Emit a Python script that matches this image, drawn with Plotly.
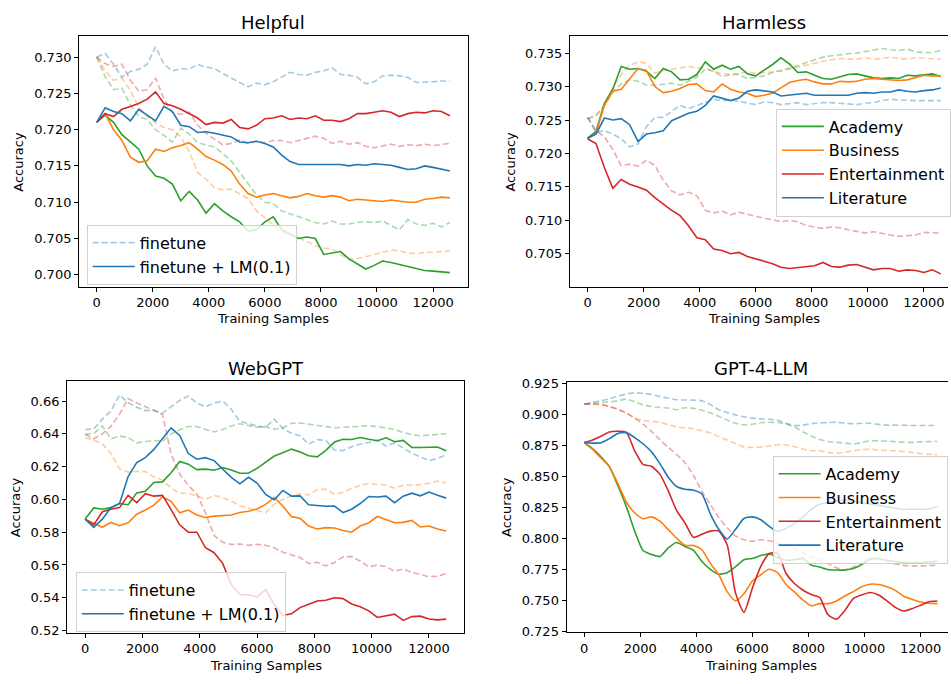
import plotly.graph_objects as go

# Training-sample checkpoints shared by every curve
STEPS = list(range(0, 12601, 300))

CATEGORIES = ["Academy", "Business", "Entertainment", "Literature"]

# ---------------- Helpful ----------------
HELP_ACAD_FT = [.7300, .7273, .7255, .7257, .7234, .7218, .7214, .7200, .7192, .7183, .7202, .7194, .7182, .7179, .7176,
                .7167, .7157, .7141, .7126, .7110, .7100, .7098, .7088, .7084, .7080, .7076, .7072, .7070, .7074, .7070,
                .7070, .7072, .7073, .7072, .7074, .7068, .7062, .7076, .7070, .7068, .7071, .7066, .7072]
HELP_BUS_FT = [.7300, .7281, .7268, .7271, .7254, .7231, .7218, .7209, .7203, .7200, .7190, .7170, .7141, .7132, .7120,
               .7117, .7118, .7112, .7105, .7088, .7078, .7068, .7059, .7054, .7051, .7046, .7040, .7037, .7035, .7028,
               .7021, .7022, .7025, .7029, .7032, .7034, .7033, .7030, .7029, .7031, .7031, .7032, .7033]
HELP_ENT_FT = [.7300, .7291, .7287, .7290, .7268, .7253, .7255, .7271, .7242, .7224, .7221, .7224, .7206, .7195, .7187,
               .7179, .7181, .7186, .7181, .7184, .7182, .7185, .7185, .7182, .7185, .7188, .7191, .7188, .7181, .7184,
               .7180, .7182, .7177, .7175, .7178, .7180, .7177, .7179, .7178, .7180, .7178, .7179, .7181]
HELP_LIT_FT = [.7300, .7305, .7290, .7272, .7280, .7283, .7290, .7314, .7290, .7281, .7284, .7283, .7290, .7286, .7284,
               .7277, .7271, .7265, .7259, .7264, .7262, .7266, .7272, .7279, .7276, .7275, .7279, .7281, .7285, .7276,
               .7275, .7272, .7263, .7266, .7274, .7275, .7274, .7272, .7265, .7265, .7266, .7267, .7267]
HELP_ACAD_LM = [.7210, .7220, .7210, .7193, .7183, .7173, .7150, .7136, .7133, .7125, .7102, .7115, .7103, .7085, .7098,
                .7088, .7080, .7073, .7060, .7062, .7073, .7080, .7062, .7056, .7050, .7052, .7050, .7028, .7030, .7032,
                .7022, .7015, .7008, .7013, .7019, .7017, .7014, .7012, .7009, .7006, .7005, .7004, .7003]
HELP_BUS_LM = [.7210, .7222, .7200, .7185, .7162, .7155, .7157, .7173, .7170, .7175, .7178, .7182, .7173, .7163, .7158,
               .7152, .7143, .7125, .7112, .7107, .7110, .7112, .7109, .7106, .7108, .7112, .7109, .7107, .7109, .7107,
               .7102, .7104, .7103, .7102, .7101, .7103, .7101, .7100, .7100, .7104, .7105, .7107, .7106]
HELP_ENT_LM = [.7210, .7222, .7218, .7228, .7232, .7236, .7242, .7252, .7236, .7233, .7228, .7222, .7216, .7207, .7210,
               .7209, .7214, .7203, .7201, .7206, .7215, .7216, .7219, .7214, .7216, .7215, .7219, .7213, .7213, .7211,
               .7215, .7222, .7222, .7224, .7226, .7224, .7218, .7222, .7224, .7223, .7226, .7225, .7219]
HELP_LIT_LM = [.7210, .7230, .7225, .7222, .7212, .7228, .7220, .7212, .7232, .7225, .7206, .7204, .7196, .7197, .7195,
               .7193, .7190, .7183, .7182, .7184, .7181, .7176, .7165, .7156, .7152, .7152, .7152, .7152, .7152, .7152,
               .7150, .7152, .7151, .7153, .7152, .7151, .7148, .7145, .7146, .7150, .7148, .7146, .7143]

# ---------------- Harmless ----------------
HARM_ACAD_FT = [.7252, .7256, .7272, .7292, .7304, .7310, .7308, .7302, .7302, .7304, .7305, .7302, .7308, .7314, .7326,
                .7323, .7315, .7318, .7318, .7312, .7314, .7316, .7321, .7324, .7328, .7331, .7336, .7340, .7344, .7346,
                .7348, .7349, .7350, .7352, .7354, .7357, .7355, .7354, .7356, .7352, .7351, .7351, .7354]
HARM_BUS_FT = [.7252, .7257, .7272, .7298, .7318, .7332, .7337, .7335, .7320, .7324, .7326, .7328, .7330, .7328, .7328,
               .7322, .7320, .7318, .7319, .7322, .7320, .7321, .7322, .7323, .7326, .7329, .7332, .7336, .7338, .7340,
               .7342, .7341, .7341, .7343, .7341, .7342, .7344, .7342, .7341, .7343, .7342, .7342, .7341]
HARM_ENT_FT = [.7254, .7234, .7225, .7206, .7182, .7184, .7181, .7190, .7182, .7160, .7144, .7138, .7142, .7137, .7115,
               .7111, .7114, .7108, .7112, .7109, .7105, .7103, .7101, .7098, .7100, .7098, .7092, .7090, .7088, .7090,
               .7089, .7086, .7083, .7081, .7083, .7080, .7078, .7076, .7077, .7078, .7082, .7082, .7081]
HARM_LIT_FT = [.7254, .7232, .7234, .7229, .7222, .7210, .7214, .7240, .7254, .7254, .7263, .7272, .7267, .7272, .7276,
               .7281, .7279, .7280, .7278, .7276, .7273, .7277, .7276, .7273, .7275, .7276, .7273, .7275, .7276, .7276,
               .7275, .7274, .7273, .7275, .7276, .7279, .7281, .7280, .7279, .7279, .7279, .7279, .7279]
HARM_ACAD_LM = [.7223, .7233, .7275, .7296, .7330, .7326, .7327, .7323, .7312, .7327, .7322, .7310, .7311, .7318, .7337,
                .7326, .7332, .7326, .7330, .7319, .7316, .7324, .7333, .7343, .7334, .7321, .7322, .7317, .7312, .7311,
                .7315, .7318, .7319, .7316, .7313, .7312, .7313, .7312, .7317, .7316, .7318, .7319, .7315]
HARM_BUS_LM = [.7222, .7230, .7272, .7293, .7296, .7312, .7327, .7324, .7300, .7291, .7293, .7297, .7303, .7304, .7294,
               .7292, .7304, .7296, .7292, .7290, .7285, .7287, .7290, .7298, .7306, .7309, .7311, .7307, .7304, .7304,
               .7308, .7307, .7308, .7311, .7312, .7311, .7310, .7309, .7310, .7313, .7317, .7316, .7316]
HARM_ENT_LM = [.7222, .7215, .7179, .7148, .7161, .7154, .7150, .7145, .7134, .7124, .7115, .7107, .7092, .7074, .7071,
               .7057, .7055, .7050, .7052, .7046, .7043, .7039, .7035, .7030, .7028, .7029, .7030, .7032, .7037, .7031,
               .7030, .7033, .7034, .7030, .7026, .7028, .7028, .7024, .7026, .7025, .7022, .7026, .7020]
HARM_LIT_LM = [.7223, .7229, .7253, .7250, .7252, .7243, .7218, .7229, .7231, .7234, .7249, .7254, .7260, .7263, .7272,
               .7286, .7282, .7279, .7283, .7293, .7295, .7293, .7292, .7286, .7287, .7289, .7290, .7287, .7287, .7288,
               .7287, .7287, .7290, .7291, .7290, .7292, .7292, .7295, .7293, .7292, .7294, .7295, .7298]

# ---------------- WebGPT ----------------
WEB_ACAD_FT = [.6397, .6402, .6448, .6370, .6387, .6378, .6345, .6352, .6360, .6355, .6400, .6425, .6445, .6444, .6430,
               .6412, .6427, .6448, .6462, .6452, .6440, .6445, .6428, .6437, .6465, .6466, .6458, .6450, .6442, .6437,
               .6440, .6444, .6447, .6450, .6444, .6437, .6428, .6408, .6395, .6388, .6392, .6398, .6401]
WEB_BUS_FT = [.6377, .6362, .6339, .6280, .6187, .6167, .6172, .6170, .6137, .6118, .6068, .6038, .6036, .6022, .6000,
              .6025, .6012, .5990, .5962, .5946, .5932, .5918, .5972, .6000, .6022, .6035, .6028, .6061, .6062, .6032,
              .6042, .6068, .6086, .6098, .6090, .6088, .6069, .6086, .6088, .6090, .6098, .6112, .6100]
WEB_ENT_FT = [.6397, .6370, .6400, .6446, .6520, .6615, .6590, .6568, .6543, .6518, .6277, .6155, .6085, .6032, .5918,
              .5780, .5739, .5725, .5728, .5720, .5726, .5720, .5705, .5678, .5660, .5646, .5609, .5616, .5594, .5615,
              .5650, .5652, .5624, .5589, .5599, .5590, .5562, .5576, .5555, .5541, .5529, .5532, .5548]
WEB_LIT_FT = [.6427, .6430, .6490, .6540, .6638, .6590, .6562, .6542, .6544, .6526, .6566, .6604, .6632, .6588, .6566,
              .6588, .6600, .6550, .6476, .6460, .6448, .6440, .6490, .6432, .6404, .6389, .6337, .6365, .6360, .6302,
              .6298, .6322, .6338, .6347, .6362, .6325, .6345, .6314, .6282, .6260, .6237, .6250, .6274]
WEB_ACAD_LM = [.5880, .5948, .5940, .5950, .5975, .5968, .6040, .6050, .6103, .6107, .6163, .6232, .6215, .6182, .6185,
               .6178, .6195, .6180, .6160, .6160, .6190, .6225, .6265, .6285, .6307, .6290, .6267, .6260, .6300, .6350,
               .6367, .6366, .6378, .6367, .6358, .6376, .6352, .6360, .6317, .6317, .6317, .6320, .6297]
WEB_BUS_LM = [.5880, .5855, .5830, .5860, .5840, .5858, .5910, .5936, .5965, .6015, .5988, .5918, .5935, .5905, .5890,
              .5898, .5900, .5905, .5920, .5928, .5942, .5970, .6012, .5960, .5895, .5885, .5838, .5820, .5828, .5826,
              .5810, .5800, .5838, .5858, .5896, .5875, .5858, .5860, .5872, .5832, .5838, .5820, .5808]
WEB_ENT_LM = [.5880, .5845, .5925, .5940, .5950, .6025, .5980, .6035, .6020, .6025, .5938, .5845, .5800, .5800, .5705,
              .5675, .5610, .5480, .5420, .5418, .5405, .5450, .5360, .5292, .5302, .5340, .5360, .5380, .5385, .5400,
              .5395, .5362, .5345, .5320, .5280, .5288, .5300, .5262, .5285, .5288, .5270, .5265, .5270]
WEB_LIT_LM = [.5880, .5830, .5880, .5950, .5975, .6140, .6225, .6255, .6305, .6370, .6437, .6390, .6280, .6245, .6255,
              .6237, .6185, .6135, .6095, .6135, .6100, .6030, .5998, .6055, .6020, .6022, .5968, .5965, .5958, .5960,
              .5920, .5940, .5975, .6018, .6015, .6020, .5980, .6020, .6038, .6022, .6045, .6025, .6008]

# ---------------- GPT-4-LLM ----------------
GPT_ACAD_FT = [.9086, .9090, .9097, .9102, .9112, .9125, .9105, .9080, .9065, .9058, .9053, .9040, .9056, .9052, .9035,
               .9015, .8986, .8956, .8930, .8917, .8922, .8935, .8938, .8936, .8925, .8900, .8862, .8828, .8800, .8783,
               .8777, .8771, .8763, .8775, .8788, .8788, .8786, .8782, .8777, .8776, .8780, .8782, .8783]
GPT_BUS_FT = [.9084, .9090, .9084, .9065, .9044, .9018, .8972, .8953, .8945, .8937, .8919, .8901, .8893, .8886, .8870,
              .8852, .8822, .8795, .8766, .8738, .8735, .8738, .8747, .8757, .8755, .8741, .8722, .8709, .8709, .8694,
              .8690, .8697, .8708, .8716, .8722, .8714, .8709, .8709, .8702, .8694, .8686, .8680, .8677]
GPT_ENT_FT = [.9084, .9084, .9080, .9066, .9043, .9013, .8973, .8923, .8865, .8798, .8735, .8678, .8612, .8510, .8380,
              .8275, .8170, .8087, .8021, .7990, .7978, .7990, .7982, .7965, .7948, .7918, .7885, .7855, .7829, .7798,
              .7764, .7748, .7768, .7802, .7830, .7832, .7813, .7796, .7784, .7780, .7780, .7782, .7786]
GPT_LIT_FT = [.9086, .9100, .9112, .9128, .9150, .9165, .9176, .9172, .9162, .9146, .9132, .9120, .9118, .9117, .9112,
              .9082, .9039, .9016, .8998, .8983, .8972, .8966, .8962, .8955, .8930, .8912, .8915, .8927, .8933, .8936,
              .8939, .8931, .8926, .8930, .8930, .8921, .8915, .8915, .8914, .8912, .8912, .8912, .8912]
GPT_ACAD_LM = [.8775, .8725, .8660, .8580, .8428, .8260, .8062, .7904, .7872, .7855, .7925, .7968, .7935, .7905, .7815,
               .7752, .7712, .7725, .7773, .7830, .7840, .7863, .7875, .7850, .7825, .7830, .7840, .7786, .7770, .7750,
               .7746, .7747, .7758, .7790, .7838, .7838, .7825, .7815, .7808, .7804, .7805, .7812, .7817]
GPT_BUS_LM = [.8775, .8720, .8650, .8580, .8445, .8296, .8208, .8160, .8175, .8140, .8072, .8003, .7946, .7944, .7910,
              .7800, .7710, .7572, .7498, .7555, .7658, .7708, .7752, .7725, .7630, .7570, .7505, .7458, .7475, .7475,
              .7497, .7537, .7572, .7612, .7632, .7630, .7612, .7582, .7535, .7510, .7488, .7478, .7475]
GPT_ENT_LM = [.8775, .8796, .8826, .8860, .8866, .8858, .8709, .8598, .8583, .8520, .8385, .8225, .8125, .8010, .8035,
              .8060, .8060, .7950, .7560, .7405, .7600, .7775, .7880, .7880, .7720, .7638, .7585, .7548, .7525, .7385,
              .7350, .7420, .7515, .7545, .7565, .7545, .7497, .7445, .7416, .7435, .7462, .7490, .7496]
GPT_LIT_LM = [.8775, .8770, .8773, .8806, .8848, .8855, .8815, .8765, .8700, .8605, .8495, .8420, .8398, .8390, .8360,
              .8200, .8075, .7997, .8075, .8162, .8175, .8152, .8098, .8058, .8082, .8120, .8172, .8235, .8277, .8292,
              .8302, .8312, .8302, .8290, .8278, .8268, .8256, .8245, .8234, .8238, .8236, .8238, .8258]

COLORS = {
    "Academy": (44, 160, 44),
    "Business": (255, 127, 14),
    "Entertainment": (214, 39, 40),
    "Literature": (31, 119, 180),
}

W, H = 951, 684
FONT = "DejaVu Sans"


def fx(px):
    return px / W


def fy(py):
    return 1 - py / H


# Panel geometry (pixel boxes) and axis settings
PANELS = [
    dict(title="Helpful", ax="", legend="legend",
         ft=[HELP_ACAD_FT, HELP_BUS_FT, HELP_ENT_FT, HELP_LIT_FT],
         lm=[HELP_ACAD_LM, HELP_BUS_LM, HELP_ENT_LM, HELP_LIT_LM],
         box=(79.3, 469.0, 31.0, 286.0), xr=[-630, 13230], yr=[0.69838, 0.73284],
         tick0=0.700, dtick=0.005, fmt=".3f", full=True, smooth=False, by_domain=False,
         title_xy=(274.2, 17.0), ylab_xy=(18.3, 158.5), xlab_xy=(274.2, 319.0)),
    dict(title="Harmless", ax="2", legend="legend2",
         ft=[HARM_ACAD_FT, HARM_BUS_FT, HARM_ENT_FT, HARM_LIT_FT],
         lm=[HARM_ACAD_LM, HARM_BUS_LM, HARM_ENT_LM, HARM_LIT_LM],
         box=(571.7, 951.0, 31.0, 286.0), xr=[-630, 12859], yr=[0.7001, 0.7375],
         tick0=0.705, dtick=0.005, fmt=".3f", full=False, smooth=False, by_domain=True,
         title_xy=(766.7, 17.0), ylab_xy=(511.7, 158.5), xlab_xy=(766.7, 319.0)),
    dict(title="WebGPT", ax="3", legend="legend3",
         ft=[WEB_ACAD_FT, WEB_BUS_FT, WEB_ENT_FT, WEB_LIT_FT],
         lm=[WEB_ACAD_LM, WEB_BUS_LM, WEB_ENT_LM, WEB_LIT_LM],
         box=(67.3, 465.7, 382.7, 639.0), xr=[-630, 13230], yr=[0.5186, 0.6720],
         tick0=0.52, dtick=0.02, fmt=".2f", full=True, smooth=False, by_domain=False,
         title_xy=(266.5, 370.0), ylab_xy=(15.0, 511.0), xlab_xy=(266.5, 672.0)),
    dict(title="GPT-4-LLM", ax="4", legend="legend4",
         ft=[GPT_ACAD_FT, GPT_BUS_FT, GPT_ENT_FT, GPT_LIT_FT],
         lm=[GPT_ACAD_LM, GPT_BUS_LM, GPT_ENT_LM, GPT_LIT_LM],
         box=(568.3, 951.0, 383.3, 638.3), xr=[-630, 12979], yr=[0.7245, 0.9263],
         tick0=0.725, dtick=0.025, fmt=".3f", full=False, smooth=True, by_domain=True,
         title_xy=(763.3, 369.5), ylab_xy=(508.3, 511.0), xlab_xy=(763.3, 672.0)),
]

LEGEND_POS = {
    "legend": (87.0, 223.0),
    "legend2": (778.3, 104.5),
    "legend3": (76.0, 577.0),
    "legend4": (775.0, 458.5),
}

fig = go.Figure()
annotations = []
layout = {}

for p in PANELS:
    xa, ya = "x" + p["ax"], "y" + p["ax"]
    shape = "spline" if p["smooth"] else "linear"
    # fine-tune only runs: faded dashed curves
    for cat, vals in zip(CATEGORIES, p["ft"]):
        r, g, b = COLORS[cat]
        show = (not p["by_domain"]) and cat == "Literature"
        fig.add_trace(go.Scatter(
            x=STEPS, y=vals, mode="lines", xaxis=xa, yaxis=ya,
            line=dict(color=f"rgba({r},{g},{b},0.4)", width=1.6, dash="6px,3px", shape=shape, smoothing=0.6),
            name="finetune", showlegend=show, legend=p["legend"], hoverinfo="skip"))
    # fine-tune + LM regularisation runs: solid curves
    for cat, vals in zip(CATEGORIES, p["lm"]):
        r, g, b = COLORS[cat]
        if p["by_domain"]:
            show, name = True, cat
        else:
            show, name = cat == "Literature", "finetune + LM(0.1)"
        fig.add_trace(go.Scatter(
            x=STEPS, y=vals, mode="lines", xaxis=xa, yaxis=ya,
            line=dict(color=f"rgb({r},{g},{b})", width=1.6, shape=shape, smoothing=0.6),
            name=name, showlegend=show, legend=p["legend"], hoverinfo="skip"))

    x0, x1, y0, y1 = p["box"]
    common = dict(showline=True, linecolor="black", linewidth=1, ticks="outside", ticklen=4,
                  tickwidth=1, tickcolor="black", showgrid=False, zeroline=False,
                  tickfont=dict(family=FONT, size=13, color="black"))
    layout["xaxis" + p["ax"]] = dict(
        common, domain=[fx(x0), min(fx(x1), 1.0)], range=p["xr"], anchor=ya,
        tickmode="linear", tick0=0, dtick=2000, tickformat="d", mirror=True)
    layout["yaxis" + p["ax"]] = dict(
        common, domain=[fy(y1), fy(y0)], range=p["yr"], anchor=xa,
        tickmode="linear", tick0=p["tick0"], dtick=p["dtick"], tickformat=p["fmt"],
        mirror=p["full"])

    tx, ty = p["title_xy"]
    annotations.append(dict(text=p["title"], x=fx(tx), y=fy(ty), xref="paper", yref="paper",
                            xanchor="center", yanchor="middle", showarrow=False,
                            font=dict(family=FONT, size=18, color="black")))
    lx, ly = p["ylab_xy"]
    annotations.append(dict(text="Accuracy", x=fx(lx), y=fy(ly), xref="paper", yref="paper",
                            xanchor="center", yanchor="middle", showarrow=False, textangle=-90,
                            font=dict(family=FONT, size=13, color="black")))
    bx, by = p["xlab_xy"]
    annotations.append(dict(text="Training Samples", x=fx(bx), y=fy(by), xref="paper", yref="paper",
                            xanchor="center", yanchor="middle", showarrow=False,
                            font=dict(family=FONT, size=13, color="black")))

for key, (lx, ly) in LEGEND_POS.items():
    layout[key] = dict(x=fx(lx), y=fy(ly), xanchor="left", yanchor="top",
                       bgcolor="rgba(255,255,255,0.8)", bordercolor="rgba(204,204,204,0.9)",
                       borderwidth=1, font=dict(family=FONT, size=16, color="black"),
                       tracegroupgap=0, traceorder="normal", itemwidth=42)

fig.update_layout(
    width=W, height=H, margin=dict(l=0, r=0, t=0, b=0),
    paper_bgcolor="white", plot_bgcolor="white",
    font=dict(family=FONT, size=13, color="black"),
    annotations=annotations, **layout)

fig.write_html("out.html")
